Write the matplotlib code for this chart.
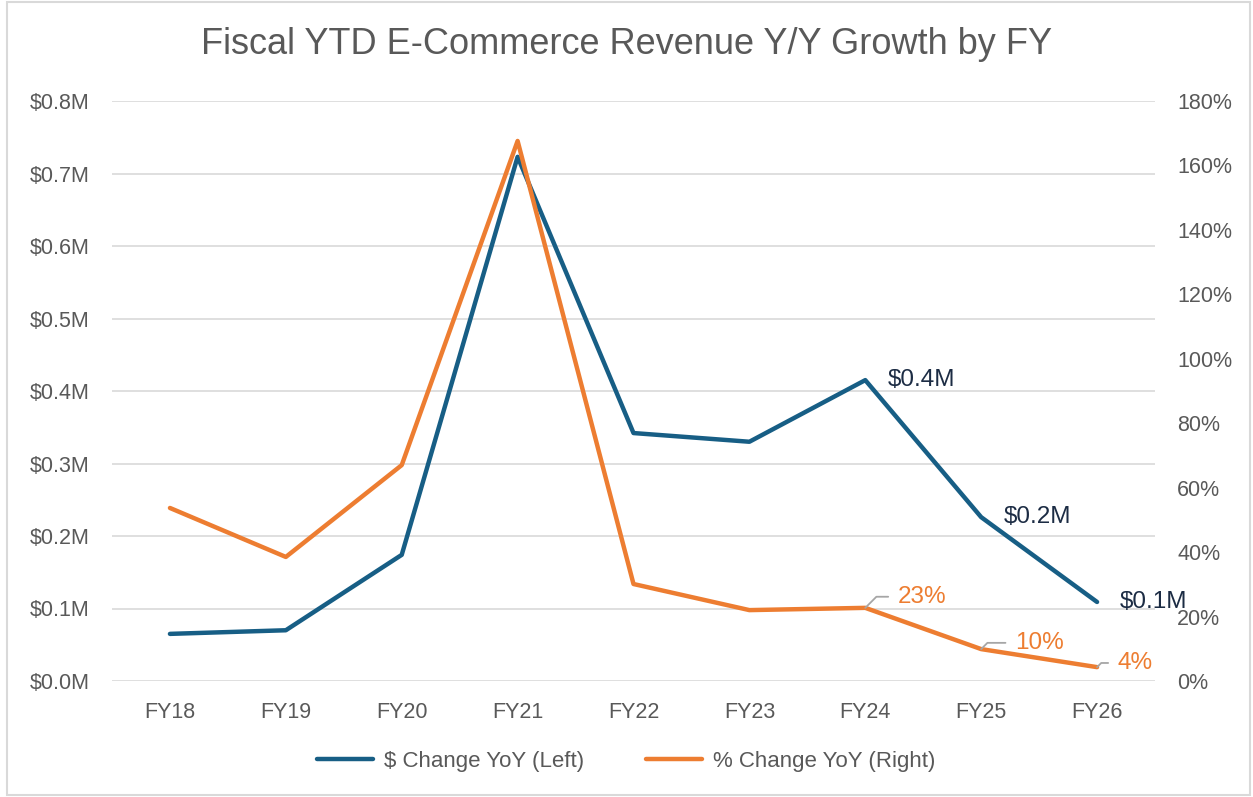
import matplotlib
matplotlib.use("Agg")
import matplotlib.pyplot as plt
from matplotlib.ticker import FuncFormatter, MultipleLocator
from matplotlib.patches import Rectangle

categories = ["FY18", "FY19", "FY20", "FY21", "FY22", "FY23", "FY24", "FY25", "FY26"]
dollar_change = [0.065, 0.070, 0.174, 0.723, 0.342, 0.330, 0.415, 0.226, 0.109]  # $M
pct_change = [53.7, 38.5, 67.0, 167.6, 30.1, 22.0, 22.7, 9.9, 4.3]  # %
dollar_labels = {6: "$0.4M", 7: "$0.2M", 8: "$0.1M"}
pct_labels = {6: "23%", 7: "10%", 8: "4%"}
pct_label_offsets = {6: (23.5, 8), 7: (24.5, 4.5), 8: (15, 3)}  # points

BLUE = "#175e85"
ORANGE = "#ed7d31"
GRID = "#d9d9d9"
TXT = "#595959"
NAVY = "#1c2c44"

plt.rcParams["font.family"] = ["Liberation Sans", "DejaVu Sans"]

fig = plt.figure(figsize=(12.53, 7.97), dpi=100)
W, H = 1253, 797
ax = fig.add_axes([112 / W, 1 - 681 / H, (1155 - 112) / W, (681 - 101) / H])
ax2 = ax.twinx()

x = list(range(len(categories)))
ax.plot(x, dollar_change, color=BLUE, lw=3.2, solid_capstyle="round", solid_joinstyle="round", zorder=3,
        label="$ Change YoY (Left)")
ax2.plot(x, pct_change, color=ORANGE, lw=3.2, solid_capstyle="round", solid_joinstyle="round", zorder=3,
         label="% Change YoY (Right)")

ax.set_xlim(-0.5, len(categories) - 0.5)
ax.set_ylim(0, 0.8)
ax2.set_ylim(0, 180)
ax.yaxis.set_major_locator(MultipleLocator(0.1))
ax2.yaxis.set_major_locator(MultipleLocator(20))
ax.yaxis.set_major_formatter(FuncFormatter(lambda v, p: f"${v:.1f}M"))
ax2.yaxis.set_major_formatter(FuncFormatter(lambda v, p: f"{v:.0f}%"))
ax.set_xticks(x)
ax.set_xticklabels(categories)

for a in (ax, ax2):
    for s in a.spines.values():
        s.set_visible(False)
    a.tick_params(length=0, colors=TXT, labelsize=15.5)
ax.tick_params(axis="y", pad=16)
ax2.tick_params(axis="y", pad=16)
ax.tick_params(axis="x", pad=15)
ax.grid(axis="y", color=GRID, lw=1.2)
ax.set_axisbelow(True)

# dollar labels
for i, t in dollar_labels.items():
    ax.annotate(t, (x[i], dollar_change[i]), xytext=(16, 0), textcoords="offset points",
                ha="left", va="center", color=NAVY, fontsize=17.5)

# pct labels with leader lines
for i, t in pct_labels.items():
    ax2.annotate(t, (x[i], pct_change[i]), xytext=pct_label_offsets[i], textcoords="offset points",
                 ha="left", va="center", color=ORANGE, fontsize=17.5,
                 arrowprops=dict(arrowstyle="-", color="#a6a6a6", lw=1.3,
                                 connectionstyle="angle,angleA=0,angleB=45,rad=0",
                                 shrinkA=5, shrinkB=0, relpos=(0, 0.5)))

fig.text(0.5, 1 - 45 / H, "Fiscal YTD E-Commerce Revenue Y/Y Growth by FY", ha="center", va="center",
         fontsize=26, color=TXT)

h1, l1 = ax.get_legend_handles_labels()
h2, l2 = ax2.get_legend_handles_labels()
fig.legend(h1 + h2, l1 + l2, loc="center", bbox_to_anchor=(0.5, 1 - 761 / H), ncol=2, frameon=False,
           fontsize=16, labelcolor=TXT, handlelength=2.5, columnspacing=2.8, handletextpad=0.5)

fig.patches.append(Rectangle((7 / W, 2 / H), 1 - 10 / W, 1 - 4 / H, transform=fig.transFigure,
                             fill=False, edgecolor="#d9d9d9", lw=1.5))

fig.savefig("out.png", dpi=100, facecolor="white")
